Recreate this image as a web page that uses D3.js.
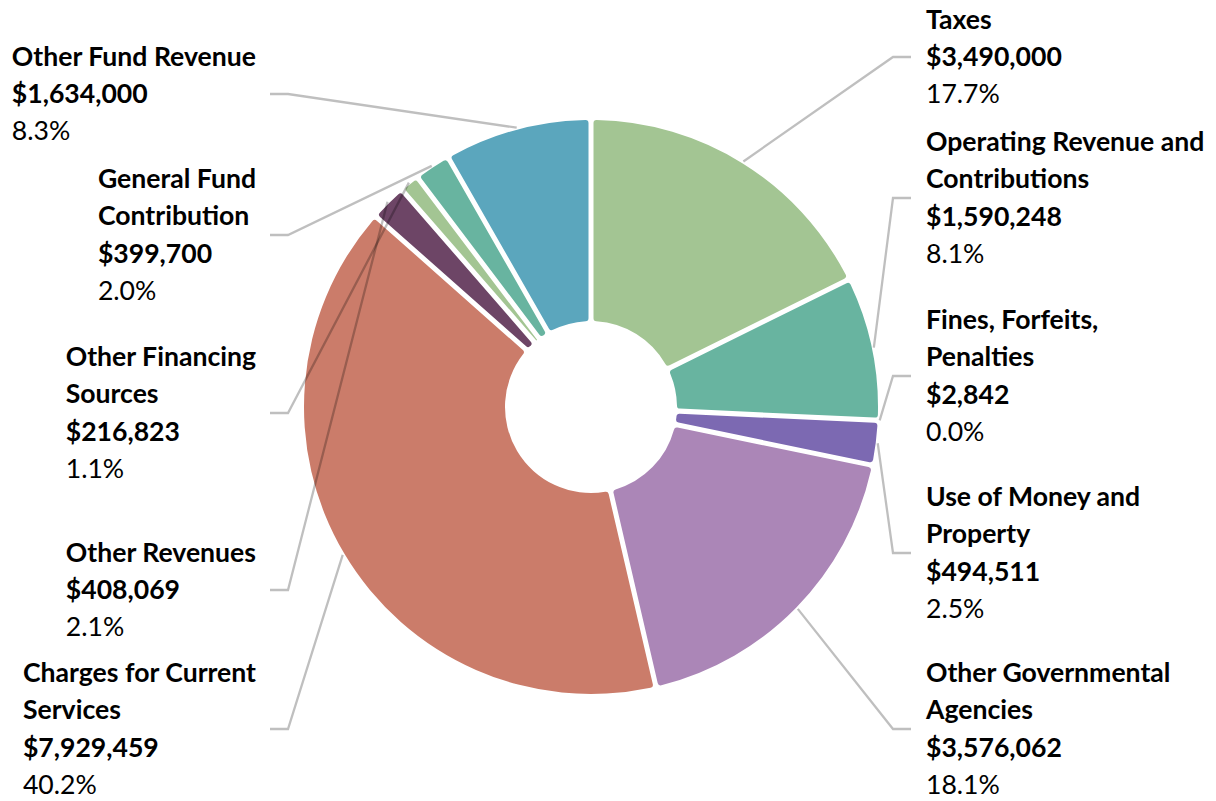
<!DOCTYPE html>
<html>
<head>
<meta charset="utf-8">
<script src="https://cdn.jsdelivr.net/npm/d3@7/dist/d3.min.js"></script>
<style>
  html, body { margin: 0; padding: 0; background: #ffffff; }
  svg { display: block; }
  text { font-family: Lato, "Open Sans", sans-serif; fill: #000000; }
</style>
</head>
<body>
<svg id="chart" width="1216" height="801"></svg>
<script>
// Revenue sources, clockwise from 12 o'clock ("\n" marks where a name wraps)
const categories = [
  "Taxes",
  "Operating Revenue and\nContributions",
  "Fines, Forfeits,\nPenalties",
  "Use of Money and\nProperty",
  "Other Governmental\nAgencies",
  "Charges for Current\nServices",
  "Other Revenues",
  "Other Financing\nSources",
  "General Fund\nContribution",
  "Other Fund Revenue"
];
const amounts = [3490000, 1590248, 2842, 494511, 3576062, 7929459, 408069, 216823, 399700, 1634000];
const sliceColors = ["#a3c593", "#68b4a0", "#5ba6bd", "#7c69b2", "#ab86b7", "#cb7c6a", "#6d4566", "#a3c593", "#68b4a0", "#5ba6bd"];

// Vertical centre of each label block
const labelCenterY = [57, 198, 376, 553, 729, 729, 590, 413, 235, 94];

const W = 1216, H = 801;
const cx = 591, cy = 407;
const outerR = 287, innerR = 86;
const fontSize = 26.6, linePitch = 37.2;

const svg = d3.select("#chart");
svg.append("rect").attr("width", W).attr("height", H).attr("fill", "#ffffff");

const total = d3.sum(amounts);
const fmtMoney = d3.format("$,");
const fmtPct = d3.format(".1%");

const rows = categories.map((name, i) => ({ name, value: amounts[i], color: sliceColors[i], cy: labelCenterY[i] }));

const pie = d3.pie().value(d => d.value).sort(null);
const arcs = pie(rows);

const arc = d3.arc()
  .innerRadius(innerR)
  .outerRadius(outerR)
  .cornerRadius(3)
  .padRadius(300)
  .padAngle(5 / 300);

const g = svg.append("g").attr("transform", `translate(${cx},${cy})`);

g.selectAll("path.slice")
  .data(arcs)
  .join("path")
  .attr("class", "slice")
  .attr("d", arc)
  .attr("fill", d => d.data.color);

// Leader lines: slice edge -> elbow -> short horizontal run toward the label
const anchorR = outerR + 2;
const lineData = arcs.map(d => {
  const a = (d.startAngle + d.endAngle) / 2;
  const right = a < Math.PI;
  const p0 = [cx + anchorR * Math.sin(a), cy - anchorR * Math.cos(a)];
  const elbowX = right ? 893 : 288;
  const endX = right ? 911 : 270;
  return { d, right, pts: [p0, [elbowX, d.data.cy], [endX, d.data.cy]] };
});

svg.append("g")
  .selectAll("path.leader")
  .data(lineData)
  .join("path")
  .attr("class", "leader")
  .attr("d", l => d3.line()(l.pts))
  .attr("fill", "none")
  .attr("stroke", "rgba(0,0,0,0.25)")
  .attr("stroke-width", 2.3)
  .attr("stroke-linejoin", "miter");

// Label blocks: wrapped name and amount in bold, share of total in regular
const labels = svg.append("g").selectAll("g.label")
  .data(lineData)
  .join("g")
  .attr("class", "label");

labels.each(function (l) {
  const grp = d3.select(this);
  const lines = l.d.data.name.split("\n").map(t => ({ t, bold: true }));
  lines.push({ t: fmtMoney(l.d.data.value), bold: true });
  lines.push({ t: fmtPct(l.d.data.value / total), bold: false });
  const n = lines.length;
  const texts = grp.selectAll("text")
    .data(lines)
    .join("text")
    .attr("font-size", fontSize)
    .attr("font-weight", t => t.bold ? 700 : 400)
    .attr("y", (t, i) => l.d.data.cy + (i - (n - 1) / 2) * linePitch + 9)
    .text(t => t.t);
  let x = 926;
  if (!l.right) {
    let maxW = 0;
    texts.each(function () { maxW = Math.max(maxW, this.getComputedTextLength()); });
    x = 256 - maxW;
  }
  texts.attr("x", x);
});
</script>
</body>
</html>
